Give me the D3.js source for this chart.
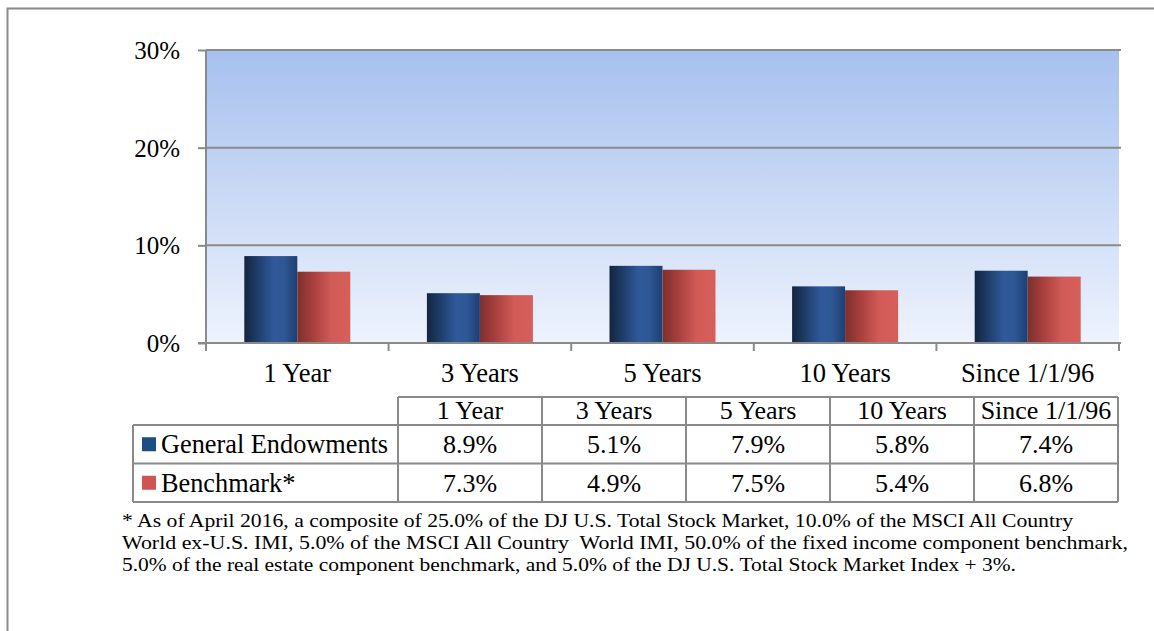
<!DOCTYPE html>
<html>
<head>
<meta charset="utf-8">
<script src="https://cdn.jsdelivr.net/npm/d3@7"></script>
<style>
  html, body { margin: 0; padding: 0; background: #ffffff; }
  svg { display: block; }
  svg text { font-family: "Liberation Serif", "Times New Roman", serif; }
</style>
</head>
<body>
<svg id="chart" width="1154" height="631"></svg>
<script>
// Annualized returns by period
const categories = ["1 Year", "3 Years", "5 Years", "10 Years", "Since 1/1/96"];
const endowments = [8.9, 5.1, 7.9, 5.8, 7.4];
const benchmark = [7.3, 4.9, 7.5, 5.4, 6.8];
const seriesNames = ["General Endowments", "Benchmark*"];
const yTicks = [0, 10, 20, 30];
const footnote = [
  "* As of April 2016, a composite of 25.0% of the DJ U.S. Total Stock Market, 10.0% of the MSCI All Country",
  "World ex-U.S. IMI, 5.0% of the MSCI All Country  World IMI, 50.0% of the fixed income component benchmark,",
  "5.0% of the real estate component benchmark, and 5.0% of the DJ U.S. Total Stock Market Index + 3%."
];
const footnoteWidths = [951, 1006, 894];

const svg = d3.select("#chart");
const gray = "#8a8a8a";
const serif = "'Liberation Serif', 'Times New Roman', serif";

// outer frame
svg.append("rect")
  .attr("x", 7.5).attr("y", 8.5).attr("width", 1160).attr("height", 640)
  .attr("fill", "none").attr("stroke", gray).attr("stroke-width", 2);

const plot = { left: 206, right: 1119, top: 50, bottom: 343 };

const x = d3.scaleBand().domain(categories).range([plot.left, plot.right]).paddingInner(0).paddingOuter(0);
const y = d3.scaleLinear().domain([0, 30]).range([plot.bottom, plot.top]);

const defs = svg.append("defs");
const bg = defs.append("linearGradient").attr("id", "bgGrad").attr("x1", 0).attr("y1", 0).attr("x2", 0).attr("y2", 1);
bg.append("stop").attr("offset", "0%").attr("stop-color", "#a6c0ee");
bg.append("stop").attr("offset", "100%").attr("stop-color", "#eef3fd");

const blueGrad = defs.append("linearGradient").attr("id", "blueGrad").attr("x1", 0).attr("y1", 0).attr("x2", 1).attr("y2", 0);
[["0%", "#13253f"], ["25%", "#1f3d6a"], ["55%", "#30599a"], ["75%", "#2e5795"], ["100%", "#1d3f72"]]
  .forEach(([o, c]) => blueGrad.append("stop").attr("offset", o).attr("stop-color", c));

const redGrad = defs.append("linearGradient").attr("id", "redGrad").attr("x1", 0).attr("y1", 0).attr("x2", 1).attr("y2", 0);
[["0%", "#7d2f2e"], ["30%", "#a8403e"], ["65%", "#d25b57"], ["100%", "#d65f5b"]]
  .forEach(([o, c]) => redGrad.append("stop").attr("offset", o).attr("stop-color", c));

// plot background
svg.append("rect")
  .attr("x", plot.left).attr("y", plot.top)
  .attr("width", plot.right - plot.left).attr("height", plot.bottom - plot.top)
  .attr("fill", "url(#bgGrad)");

// horizontal gridlines
svg.append("g").selectAll("line").data(yTicks.filter(d => d > 0)).join("line")
  .attr("x1", plot.left).attr("x2", plot.right + 2)
  .attr("y1", d => y(d)).attr("y2", d => y(d))
  .attr("stroke", gray).attr("stroke-width", 2);

// bars
const barW = 53;
const groups = svg.append("g").selectAll("g").data(categories).join("g")
  .attr("transform", d => `translate(${x(d) + x.bandwidth() / 2},0)`);

groups.append("rect")
  .attr("x", -barW).attr("width", barW)
  .attr("y", (d, i) => y(endowments[i]))
  .attr("height", (d, i) => y(0) - y(endowments[i]))
  .attr("fill", "url(#blueGrad)");

groups.append("rect")
  .attr("x", 0).attr("width", barW)
  .attr("y", (d, i) => y(benchmark[i]))
  .attr("height", (d, i) => y(0) - y(benchmark[i]))
  .attr("fill", "url(#redGrad)");

// y axis
const yAxis = d3.axisLeft(y).tickValues(yTicks).tickSize(8).tickFormat(d => d + "%");
const gy = svg.append("g").attr("transform", `translate(${plot.left},0)`).call(yAxis)
  .attr("font-family", serif);
gy.select(".domain").attr("stroke", gray).attr("stroke-width", 2).attr("d", `M0,${plot.top}V${plot.bottom}`);
gy.selectAll(".tick line").attr("stroke", gray).attr("stroke-width", 2);
gy.selectAll(".tick text")
  .attr("x", -26).attr("dy", "0.34em")
  .attr("font-size", 25).attr("fill", "#000");

// x axis
const gx = svg.append("g").attr("transform", `translate(0,${plot.bottom})`);
gx.append("line").attr("x1", plot.left - 8).attr("x2", plot.right + 2)
  .attr("y1", 0).attr("y2", 0).attr("stroke", gray).attr("stroke-width", 2);
const bounds = categories.map(c => x(c)).concat([plot.right]);
gx.selectAll("line.tk").data(bounds).join("line").attr("class", "tk")
  .attr("x1", d => d).attr("x2", d => d).attr("y1", 0).attr("y2", 8)
  .attr("stroke", gray).attr("stroke-width", 2);
gx.selectAll("text").data(categories).join("text")
  .attr("x", d => x(d) + x.bandwidth() / 2).attr("y", 39)
  .attr("text-anchor", "middle").attr("font-size", 26.5).attr("fill", "#000")
  .text(d => d);

// data table
const table = { left: 133, labelRight: 398, right: 1118, top: 397, headerBottom: 425, rowH: 38.5 };
const tx = d3.scaleBand().domain(categories).range([table.labelRight, table.right]);
const rows = [endowments, benchmark];
const tableBottom = table.headerBottom + rows.length * table.rowH;
const tg = svg.append("g");
const lineStyle = sel => sel.attr("stroke", gray).attr("stroke-width", 2);

// header row top line
tg.append("line").call(lineStyle)
  .attr("x1", table.labelRight).attr("x2", table.right).attr("y1", table.top).attr("y2", table.top);
// horizontal row lines
tg.selectAll("line.h").data(d3.range(rows.length + 1)).join("line").attr("class", "h").call(lineStyle)
  .attr("x1", table.left).attr("x2", table.right)
  .attr("y1", i => table.headerBottom + i * table.rowH).attr("y2", i => table.headerBottom + i * table.rowH);
// vertical lines
tg.append("line").call(lineStyle)
  .attr("x1", table.left).attr("x2", table.left).attr("y1", table.headerBottom).attr("y2", tableBottom);
const colEdges = categories.map(c => tx(c)).concat([table.right]);
tg.selectAll("line.v").data(colEdges).join("line").attr("class", "v").call(lineStyle)
  .attr("x1", d => d).attr("x2", d => d)
  .attr("y1", table.top).attr("y2", tableBottom);

// header labels
tg.selectAll("text.hd").data(categories).join("text").attr("class", "hd")
  .attr("x", d => tx(d) + tx.bandwidth() / 2).attr("y", table.headerBottom - 6)
  .attr("text-anchor", "middle").attr("font-size", 26).attr("fill", "#000")
  .text(d => d);

// series rows
const swatch = ["#1f4e85", "#cf5552"];
rows.forEach((vals, r) => {
  const rowTop = table.headerBottom + r * table.rowH;
  const mid = rowTop + table.rowH / 2;
  tg.append("rect").attr("x", 142).attr("y", mid - 7).attr("width", 14).attr("height", 14)
    .attr("fill", swatch[r]);
  tg.append("text").attr("x", 161).attr("y", mid + 9)
    .attr("font-size", 26.3).attr("fill", "#000").text(seriesNames[r]);
  tg.selectAll(null).data(vals).join("text")
    .attr("x", (d, i) => tx(categories[i]) + tx.bandwidth() / 2).attr("y", mid + 9)
    .attr("text-anchor", "middle").attr("font-size", 26).attr("fill", "#000")
    .text(d => d.toFixed(1) + "%");
});

// footnote
svg.append("g").selectAll("text").data(footnote).join("text")
  .attr("x", 122).attr("y", (d, i) => 527 + i * 22)
  .attr("font-size", 18).attr("fill", "#000")
  .attr("textLength", (d, i) => footnoteWidths[i])
  .attr("lengthAdjust", "spacingAndGlyphs")
  .style("white-space", "pre")
  .text(d => d);
</script>
</body>
</html>
